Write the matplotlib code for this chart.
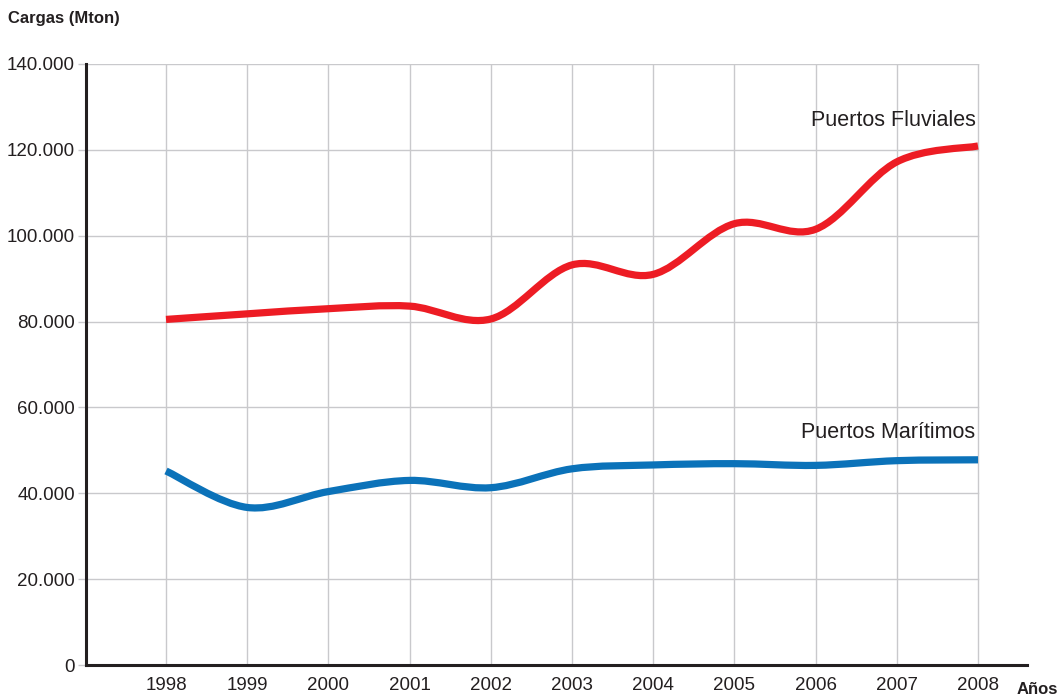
"""Cargas en puertos fluviales y maritimos, 1998-2008."""

import matplotlib
matplotlib.use('Agg')
import matplotlib.patches
import matplotlib.path
import matplotlib.pyplot as plt
import numpy as np

years = [1998, 1999, 2000, 2001, 2002, 2003, 2004, 2005, 2006, 2007, 2008]
fluviales = [80500, 81800, 83000, 83600, 80600, 93200, 91000, 102800, 101500, 117200, 120900]
maritimos = [45200, 36700, 40400, 43000, 41300, 45700, 46600, 46900, 46500, 47600, 47800]
y_ticks = [0, 20000, 40000, 60000, 80000, 100000, 120000, 140000]
y_labels = ['0', '20.000', '40.000', '60.000', '80.000', '100.000', '120.000', '140.000']

RED = '#ed1c24'
BLUE = '#0b72b9'
INK = '#231f20'
GRID = '#c9c9cc'

plt.rcParams['font.family'] = ['Liberation Sans', 'DejaVu Sans']


def smooth_path(xs, ys):
    """Catmull-Rom curve through the points, as cubic Bezier segments."""
    pts = np.column_stack([xs, ys]).astype(float)
    ext = np.vstack([pts[0], pts, pts[-1]])
    verts = [pts[0]]
    codes = [matplotlib.path.Path.MOVETO]
    for i in range(1, len(ext) - 2):
        p0, p1, p2, p3 = ext[i - 1], ext[i], ext[i + 1], ext[i + 2]
        verts += [p1 + (p2 - p0) / 6, p2 - (p3 - p1) / 6, p2]
        codes += [matplotlib.path.Path.CURVE4] * 3
    return matplotlib.path.Path(verts, codes)


fig = plt.figure(figsize=(10.59, 7.0), dpi=100)
ax = fig.add_axes([86 / 1059, 35 / 700, (1027 - 86) / 1059, (665 - 64) / 700])
xmin, xmax = 1998 - 80 / 81.2, 2008 + 49 / 81.2
ax.set_xlim(xmin, xmax)
ax.set_ylim(0, 140000)

# grid stops at the last year
for y in y_ticks[1:]:
    ax.plot([xmin, years[-1]], [y, y], c=GRID, lw=1, zorder=1)
for x in years:
    ax.plot([x, x], [0, 140000], c=GRID, lw=1, zorder=1)

for values, color in [(fluviales, RED), (maritimos, BLUE)]:
    ax.add_patch(matplotlib.patches.PathPatch(
        smooth_path(years, values), fill=False, ec=color, lw=5.2,
        capstyle='butt', joinstyle='round', zorder=3))

ax.text(years[-1] - 0.03, 125500, 'Puertos Fluviales', ha='right',
        va='baseline', fontsize=15.5, color=INK)
ax.text(years[-1] - 0.03, 52900, 'Puertos Marítimos', ha='right',
        va='baseline', fontsize=15.5, color=INK)

for side in ['top', 'right']:
    ax.spines[side].set_visible(False)
for side in ['left', 'bottom']:
    ax.spines[side].set_linewidth(2.2)
    ax.spines[side].set_color(INK)
    ax.spines[side].set_zorder(4)

ax.set_yticks(y_ticks)
ax.set_yticklabels(y_labels)
ax.tick_params(axis='y', length=6, width=1, color=GRID, pad=2,
               labelsize=13.5, labelcolor=INK)
ax.set_xticks(years)
ax.set_xticklabels([str(y) for y in years])
ax.tick_params(axis='x', length=0, pad=9, labelsize=13.5, labelcolor=INK)

fig.text(8 / 1059, 1 - 18 / 700, 'Cargas (Mton)', ha='left', va='center',
         fontsize=12, fontweight='bold', color=INK)
fig.text(1017 / 1059, 1 - 689 / 700, 'Años', ha='left', va='center',
         fontsize=12, fontweight='bold', color=INK)

fig.savefig('out.png', dpi=100)
